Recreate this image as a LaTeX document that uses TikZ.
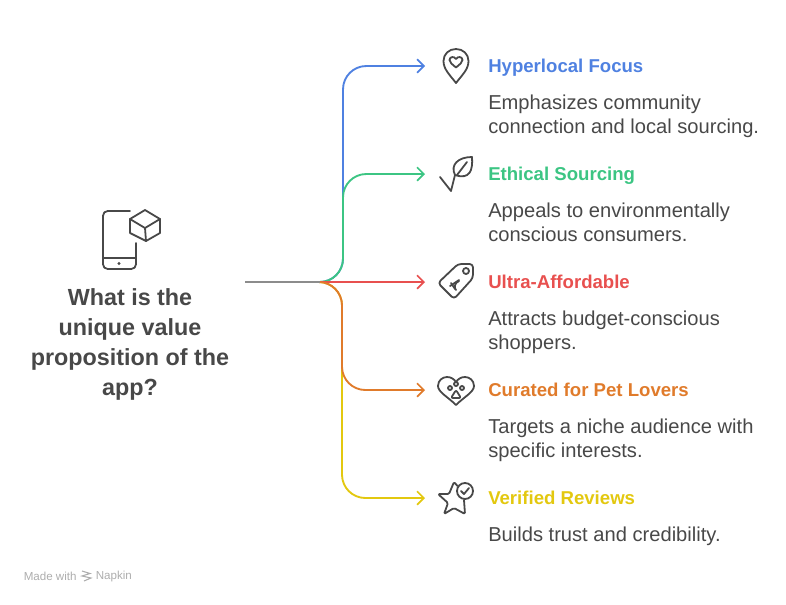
\documentclass[tikz,border=0pt]{standalone}
\usepackage{fontspec}
\setmainfont{Liberation Sans}
\usetikzlibrary{arrows.meta}
\definecolor{cblue}{HTML}{4F81E1}
\definecolor{cgreen}{HTML}{3CC583}
\definecolor{cred}{HTML}{E8504F}
\definecolor{corange}{HTML}{E07B2B}
\definecolor{cyellow}{HTML}{E3C80F}
\definecolor{ctext}{HTML}{484848}
\begin{document}
\begin{tikzpicture}[x=0.75pt,y=-0.75pt]
      \useasboundingbox(0,0) rectangle (786,604);
      \tikzset{T/.style = {text=ctext,font=\fontsize{17.5}{22.5}\selectfont\bfseries,align=center}}
      \tikzset{H/.style = {anchor=west,inner sep=0pt,text height=11.5pt,text depth=1.5pt,font=\fontsize{13.95}{18}\selectfont\bfseries}}
      \tikzset{B/.style = {anchor=north west,inner sep=0pt,text=ctext,align=left,font=\fontsize{15.1}{18}\selectfont}}
      \tikzset{E/.style = {draw,line width=1.4pt,rounded corners=17.5pt,-{Straight Barb[length=5pt,width=10pt,line width=1.3pt]}}}
      \tikzset{I/.style = {draw=ctext,line width=1.35pt,line join=round,line cap=round}}
      % texts
      \node[T](title) at (130,344) {What is the\\unique value\\proposition of the\\app?};
      \node[H,text=cblue](h1) at (488,66) {Hyperlocal Focus};
      \node[H,text=cgreen](h2) at (488,174) {Ethical Sourcing};
      \node[H,text=cred](h3) at (488,282) {Ultra-Affordable};
      \node[H,text=corange](h4) at (488,390) {Curated for Pet Lovers};
      \node[H,text=cyellow](h5) at (488,498) {Verified Reviews};
      \node[B](b1) at (488,92) {\strut Emphasizes community\\connection and local sourcing.};
      \node[B](b2) at (488,200) {\strut Appeals to environmentally\\conscious consumers.};
      \node[B](b3) at (488,308) {\strut Attracts budget-conscious\\shoppers.};
      \node[B](b4) at (488,416) {\strut Targets a niche audience with\\specific interests.};
      \node[B](b5) at (488,524) {\strut Builds trust and credibility.};
      \node[anchor=west,inner sep=0pt,text=black!32,font=\fontsize{8.7}{10}\selectfont](made) at (23.5,576) {Made with};
      \node[anchor=west,inner sep=0pt,text=black!32,font=\fontsize{8.7}{10}\selectfont](napkin) at (95.5,576) {Napkin};
      % connectors
      \coordinate (s) at (245,282);
      \coordinate (hub) at (320,282);
      \coordinate (up) at (343,282);
      \coordinate (dn) at (342,282);
      \coordinate (e1) at (425,66);
      \coordinate (e2) at (425,174);
      \coordinate (e3) at (425,282);
      \coordinate (e4) at (425,390);
      \coordinate (e5) at (425,498);
      \draw[E,draw=cblue](hub) -- (up) -- (up |- e1) -- (e1);
      \draw[E,draw=cgreen](hub) -- (up) -- (up |- e2) -- (e2);
      \draw[E,draw=cyellow](hub) -- (dn) -- (dn |- e5) -- (e5);
      \draw[E,draw=cred](hub) -- (e3);
      \draw[E,draw=corange](hub) -- (dn) -- (dn |- e4) -- (e4);
      \draw[line width=1.4pt,draw=black!45](s) -- (hub);
      % phone and cube
      \draw[I,rounded corners=3.5pt](130,211) -- (103,211) -- (103,269) -- (136,269) -- (136,243);
      \draw[I](103,258) -- (136,258);
      \fill[ctext](119,263.5) circle (1.6);
      \draw[I](145,210) -- (160,219) -- (160,233) -- (146,241) -- (130,233) -- (130,219) -- cycle;
      \draw[I](130,219) -- (145,228) -- (160,219);
      \draw[I](145,228) -- (146,241);
      % pin
      \draw[I](456,83) .. controls (449,74) and (443.5,69) .. (443.5,61) .. controls (443.5,54) and (449,49) .. (456,49) .. controls (463,49) and (468.5,54) .. (468.5,61) .. controls (468.5,69) and (463,74) .. (456,83) -- cycle;
      \draw[I](456,67.5) .. controls (452,64) and (449.5,62.5) .. (449.5,60) .. controls (449.5,56.5) and (454.5,56) .. (456,59) .. controls (457.5,56) and (462.5,56.5) .. (462.5,60) .. controls (462.5,62.5) and (460,64) .. (456,67.5) -- cycle;
      % leaf
      \draw[I](440,177) -- (451,191) -- (455,175);
      \draw[I](455,175) .. controls (450,165) and (458,157) .. (472,157) .. controls (473,170) and (470,180) .. (455,175) -- cycle;
      \draw[I](457,175) -- (467,162);
      % tag
      \draw[I,rounded corners=2.5pt](438,283) -- (458,264) -- (473,264) -- (473,278) -- (454,299) -- cycle;
      \draw[I](466,271) circle (3);
      \draw[I](450,286) -- (459,280);
      \draw[I](459,281) .. controls (454,283) and (454,288) .. (456,290);
      \draw[I](451,283) -- (455,289);
      % heart and paw
      \draw[I](456,405) .. controls (448,397) and (438,392) .. (438,386) .. controls (438,380) and (443,377) .. (447,377) .. controls (451,377) and (454,379) .. (456,382) .. controls (458,379) and (461,377) .. (465,377) .. controls (469,377) and (474,380) .. (474,386) .. controls (474,392) and (464,397) .. (456,405) -- cycle;
      \draw[I,rounded corners=1.5pt](451,398) -- (456,390) -- (461,398) -- cycle;
      \draw[I](450,388) circle (2);
      \draw[I](456,384) circle (2);
      \draw[I](462,388) circle (2);
      % star and check
      \draw[I,rounded corners=1pt](457.5,486) -- (454,482) -- (449,494) -- (438,494) -- (448,503) -- (444,514) -- (454,508) -- (465,514) -- (464,500);
      \draw[I](465,491) circle (8);
      \draw[I](461,491) -- (464,494) -- (469,488);
      % footer mark
      \draw[line width=0.8pt,draw=black!32](82,571) -- (90,573.5) -- (82,576) -- (91,578) -- (84,581);
\end{tikzpicture}
\end{document}
